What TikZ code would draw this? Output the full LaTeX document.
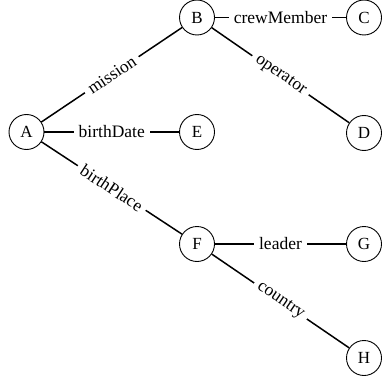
\documentclass[tikz,border=0pt]{standalone}
\usepackage{fontspec}
\setmainfont{Liberation Serif}
\newfontfamily\labfont{Liberation Serif}
\begin{document}
\begin{tikzpicture}[x=1pt,y=-1pt,
  vert/.style={circle,draw,line width=0.9pt,minimum size=35pt,inner sep=0pt,font=\labfont\fontsize{17}{20}\selectfont},
  rel/.style={line width=1.5pt},
  lab/.style={fill=white,inner xsep=5pt,inner ysep=3pt,font=\labfont\fontsize{17.5}{20}\selectfont}]
\useasboundingbox (0,0) rectangle (381,385);
\node[vert] (A) at (26.5,132) {A};
\node[vert] (B) at (197,17.5) {B};
\node[vert] (C) at (364,17.5) {C};
\node[vert] (E) at (197,132) {E};
\node[vert] (D) at (364,133) {D};
\node[vert] (F) at (197,244) {F};
\node[vert] (G) at (364,244) {G};
\node[vert] (H) at (364,358) {H};
\draw[rel] (A) -- node[lab,sloped] {mission} (B);
\draw[rel] (A) -- node[lab] {birthDate} (E);
\draw[rel] (A) -- node[lab,sloped] {birthPlace} (F);
\draw[rel] (B) -- node[lab] {crewMember} (C);
\draw[rel] (B) -- node[lab,sloped] {operator} (D);
\draw[rel] (F) -- node[lab] {leader} (G);
\draw[rel] (F) -- node[lab,sloped] {country} (H);
\end{tikzpicture}
\end{document}
